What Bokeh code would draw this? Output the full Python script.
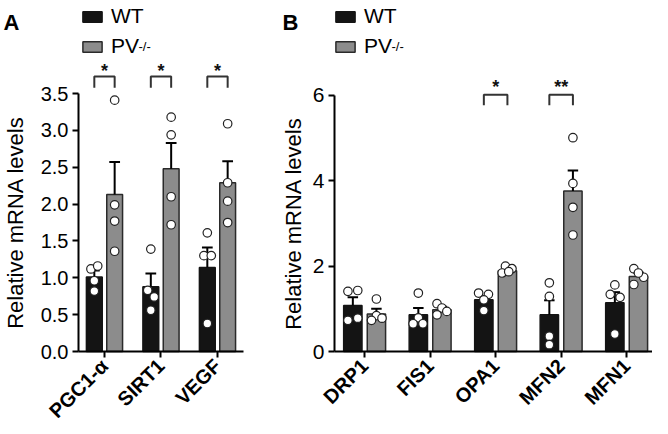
from bokeh.plotting import figure
from bokeh.layouts import row
from bokeh.models import (ColumnDataSource, FixedTicker, Legend, LegendItem,
                          Label, Range1d, NumeralTickFormatter)
from bokeh.core.properties import value
from bokeh.embed import file_html
from bokeh.resources import INLINE

FONT = "Liberation Sans"

# ---------------- data: panel A ----------------
genes_a = ["PGC1-\u03b1", "SIRT1", "VEGF"]
mean_wt_a = [1.01, 0.88, 1.14]
mean_pv_a = [2.13, 2.48, 2.29]
err_wt_a = [1.10, 1.06, 1.41]          # top of SEM whisker
err_pv_a = [2.57, 2.83, 2.58]
pts_wt_a = [[1.12, 1.16, 0.96, 0.82], [1.39, 0.83, 0.74, 0.56], [1.61, 1.30, 1.30, 0.38]]
pts_pv_a = [[3.41, 1.99, 1.77, 1.36], [3.18, 2.94, 2.10, 1.72], [3.09, 2.29, 2.04, 1.75]]
jit_wt_a = [[-0.06, 0.06, 0, 0], [0, -0.055, 0.06, 0], [0, -0.06, 0.07, 0]]
jit_pv_a = [[0, 0, 0, 0], [0, 0, 0, 0], [0, 0, 0, 0]]
sig_a = ["*", "*", "*"]
yticks_a = [0.0, 0.5, 1.0, 1.5, 2.0, 2.5, 3.0, 3.5]

# ---------------- data: panel B ----------------
genes_b = ["DRP1", "FIS1", "OPA1", "MFN2", "MFN1"]
mean_wt_b = [1.08, 0.86, 1.21, 0.86, 1.14]
mean_pv_b = [0.88, 0.98, 1.89, 3.76, 1.76]
err_wt_b = [1.27, 1.02, 1.30, 1.20, 1.39]
err_pv_b = [1.00, 1.05, 1.93, 4.24, 1.85]
pts_wt_b = [[1.41, 1.43, 0.73, 0.78], [1.37, 0.79, 0.65, 0.65], [1.37, 1.34, 1.21, 0.96],
            [1.61, 1.29, 0.36, 0.16], [1.56, 1.34, 1.27, 0.41]]
pts_pv_b = [[1.23, 0.84, 0.73, 0.78], [1.12, 1.02, 0.94, 0.86], [2.00, 1.94, 1.84, 1.87],
            [5.01, 3.94, 3.38, 2.73], [1.94, 1.74, 1.84, 1.57]]
jit_wt_b = [[-0.075, 0.075, -0.075, 0.075], [0, 0, -0.08, 0.07], [-0.08, 0.07, 0, 0],
            [0, 0, 0, 0], [0, -0.07, 0.08, 0]]
jit_pv_b = [[0, 0, -0.075, 0.085], [-0.075, 0, 0.075, -0.075], [-0.03, 0.07, -0.08, 0.02],
            [0, 0, 0, 0], [-0.07, 0.08, 0, -0.07]]
sig_b = ["", "", "*", "**", ""]
yticks_b = [0, 2, 4, 6]

BLACK = "#141414"
GRAY = "#8c8c8c"
EDGE = "#2a2a2a"
OFF = 0.18
BW = 0.28
H = 418          # figure height (px)
ZERO_PX = 351    # px from top of figure to the value 0
PAD = 0.46       # category padding at the left end of the x axis


def panel(genes, m_wt, m_pv, e_wt, e_pv, p_wt, p_pv, j_wt, j_pv, sig, yticks,
          ymax_axis, ppu_y, br_top, br_low, star_y, fmt, width, axis_px, ppu_x,
          cap, letter, letter_x, leg_x, tick_size, label_standoff):
    n = len(genes)
    xs = list(range(n))
    x0 = -PAD - axis_px / ppu_x
    x1 = x0 + width / ppu_x
    p = figure(width=width, height=H, output_backend="svg", toolbar_location=None,
               x_range=Range1d(x0, x1),
               y_range=Range1d(-(H - ZERO_PX) / ppu_y, ZERO_PX / ppu_y),
               min_border_left=0, min_border_right=0, min_border_top=0,
               min_border_bottom=0)
    p.outline_line_color = None
    p.xgrid.visible = False
    p.ygrid.visible = False
    p.background_fill_color = "white"
    p.border_fill_color = "white"

    src_wt = ColumnDataSource(dict(x=[x - OFF for x in xs], top=m_wt))
    src_pv = ColumnDataSource(dict(x=[x + OFF for x in xs], top=m_pv))
    r_wt = p.vbar(x="x", top="top", width=BW, source=src_wt, fill_color=BLACK,
                  line_color=BLACK, line_width=1.5)
    r_pv = p.vbar(x="x", top="top", width=BW, source=src_pv, fill_color=GRAY,
                  line_color=EDGE, line_width=1.5)

    # SEM whiskers (upper only)
    for off, means, tops in ((-OFF, m_wt, e_wt), (OFF, m_pv, e_pv)):
        cx = [x + off for x in xs]
        p.segment(x0=cx, y0=means, x1=cx, y1=tops, line_color="black", line_width=2)
        p.segment(x0=[c - cap for c in cx], y0=tops, x1=[c + cap for c in cx], y1=tops,
                  line_color="black", line_width=2)

    # individual points
    px, py = [], []
    for i in xs:
        for v, j in zip(p_wt[i], j_wt[i]):
            px.append(i - OFF + j)
            py.append(v)
        for v, j in zip(p_pv[i], j_pv[i]):
            px.append(i + OFF + j)
            py.append(v)
    p.scatter(px, py, size=8.5, marker="circle", fill_color="white",
              line_color="#222222", line_width=1.2)

    # significance brackets
    bx, by, sx, sy, st = [], [], [], [], []
    for i, s in enumerate(sig):
        if not s:
            continue
        bx.append([i - OFF, i - OFF, i + OFF, i + OFF])
        by.append([br_low, br_top, br_top, br_low])
        sx.append(i)
        sy.append(star_y)
        st.append(s)
    p.multi_line(bx, by, line_color="#333333", line_width=2)
    p.text(sx, sy, text=st, text_align="center", text_baseline="alphabetic",
           text_font=value(FONT), text_font_style="bold", text_font_size="18px",
           text_color="#111111")

    # x axis, drawn at value 0
    ax = p.xaxis[0]
    ax.fixed_location = 0
    ax.bounds = (-PAD, min(n - 1 + PAD, x1))
    ax.ticker = FixedTicker(ticks=xs)
    ax.major_label_overrides = {i: g for i, g in enumerate(genes)}
    ax.major_label_orientation = 0.785398
    ax.major_label_text_font = FONT
    ax.major_label_text_font_style = "bold"
    ax.major_label_text_font_size = "20px"
    ax.major_label_text_color = "black"
    ax.major_label_standoff = 5
    ax.minor_tick_line_color = None
    ax.major_tick_in = 0
    ax.major_tick_out = 6
    ax.major_tick_line_width = 2
    ax.axis_line_width = 2

    # y axis, drawn at the left end of the x axis
    ay = p.yaxis[0]
    ay.fixed_location = -PAD
    ay.ticker = FixedTicker(ticks=yticks)
    ay.formatter = NumeralTickFormatter(format=fmt)
    ay.bounds = (0, ymax_axis)
    ay.axis_label = "Relative mRNA levels"
    ay.axis_label_text_font = FONT
    ay.axis_label_text_font_style = "normal"
    ay.axis_label_text_font_size = "22px"
    ay.axis_label_text_color = "black"
    ay.axis_label_standoff = label_standoff
    ay.major_label_text_font = FONT
    ay.major_label_text_font_size = tick_size
    ay.major_label_text_color = "black"
    ay.minor_tick_line_color = None
    ay.major_tick_in = 0
    ay.major_tick_out = 6
    ay.major_tick_line_width = 2
    ay.axis_line_width = 2
    ay.major_label_standoff = 4

    # legend (top-left corner of the panel)
    leg = Legend(items=[LegendItem(label="WT", renderers=[r_wt]),
                        LegendItem(label="PV", renderers=[r_pv])],
                 location=(leg_x, H - 58), orientation="vertical")
    leg.glyph_width = 24
    leg.glyph_height = 13
    leg.label_height = 24
    leg.spacing = 6
    leg.padding = 0
    leg.margin = 0
    leg.label_standoff = 7
    leg.label_text_font = FONT
    leg.label_text_font_size = "21px"
    leg.label_text_color = "black"
    leg.border_line_color = None
    leg.background_fill_alpha = 0
    p.add_layout(leg, "center")

    p.add_layout(Label(x=leg_x + 58, y=H - 38, x_units="screen", y_units="screen",
                       text="-/-", text_font=FONT, text_font_size="13px",
                       text_baseline="top", text_color="black"))
    p.add_layout(Label(x=letter_x, y=H - 22, x_units="screen", y_units="screen",
                       text=letter, text_font=FONT, text_font_size="22px",
                       text_font_style="bold", text_baseline="alphabetic",
                       text_color="black"))
    return p


pa = panel(genes_a, mean_wt_a, mean_pv_a, err_wt_a, err_pv_a, pts_wt_a, pts_pv_a,
           jit_wt_a, jit_pv_a, sig_a, yticks_a, 3.5, 73.7, 3.73, 3.58, 3.81,
           "0.0", 270, 78, 56.5, 0.095, "A", 3, 80, "20px", 10)
pb = panel(genes_b, mean_wt_b, mean_pv_b, err_wt_b, err_pv_b, pts_wt_b, pts_pv_b,
           jit_wt_b, jit_pv_b, sig_b, yticks_b, 6, 42.67, 6.02, 5.77, 6.2,
           "0", 382, 64, 65.5, 0.08, "B", 12, 63, "21px", 4)

layout = row(pa, pb)
open("out.html", "w").write(file_html(layout, INLINE))
